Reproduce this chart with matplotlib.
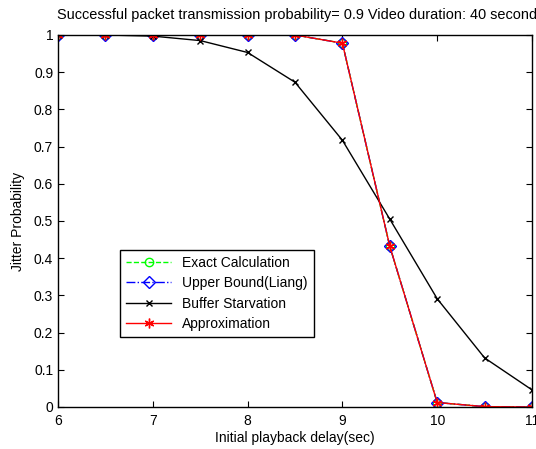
import matplotlib
matplotlib.use('Agg')
import matplotlib.pyplot as plt
from matplotlib.ticker import FuncFormatter

plt.rcParams['font.family'] = ['Liberation Sans', 'DejaVu Sans']

delay = [6, 6.5, 7, 7.5, 8, 8.5, 9, 9.5, 10, 10.5, 11]
exact = [1, 1, 1, 1, 1, 1, 0.978, 0.432, 0.012, 0.001, 0.0]
upper = [1, 1, 1, 1, 1, 1, 0.978, 0.432, 0.012, 0.001, 0.0]
starvation = [1, 1, 0.997, 0.985, 0.953, 0.873, 0.717, 0.505, 0.291, 0.132, 0.046]
approx = [1, 1, 1, 1, 1, 1, 0.978, 0.432, 0.012, 0.001, 0.0]

fig = plt.figure(figsize=(5.36, 4.49), dpi=100)
ax = fig.add_axes([58 / 536, 42 / 449, 474 / 536, 372 / 449])

ax.plot(delay, exact, '--', color='#00ff00', marker='o', mfc='none', ms=6,
        lw=1, label='Exact Calculation')
ax.plot(delay, upper, '-.', color='blue', marker='D', mfc='none', ms=6,
        lw=1, label='Upper Bound(Liang)')
ax.plot(delay, starvation, '-', color='black', marker='x', ms=5,
        lw=1, label='Buffer Starvation')
ax.plot(delay, approx, '-', color='red', marker=(6, 2, 0), ms=7,
        lw=1, label='Approximation')

ax.set_xlim(6, 11)
ax.set_ylim(0, 1)
ax.set_xticks(range(6, 12))
ax.set_yticks([i / 10 for i in range(11)])
ax.yaxis.set_major_formatter(FuncFormatter(lambda v, p: f'{v:g}'))
ax.tick_params(direction='in', top=True, right=True, labelsize=10, length=4)
ax.tick_params(axis='x', pad=5)
for s in ax.spines.values():
    s.set_linewidth(1)

ax.set_xlabel('Initial playback delay(sec)', fontsize=10, labelpad=2)
ax.set_ylabel('Jitter Probability', fontsize=10, labelpad=6)
fig.text(57 / 536, 1 - 15 / 449,
         'Successful packet transmission probability= 0.9 Video duration: 40 seconds',
         fontsize=10.45, ha='left', va='center')

leg = ax.legend(loc='lower left', bbox_to_anchor=(0.131, 0.188), borderaxespad=0,
                fontsize=10, fancybox=False, edgecolor='black', framealpha=1,
                handlelength=3.2, borderpad=0.45, labelspacing=0.45)
leg.get_frame().set_linewidth(1)

fig.savefig('out.png', dpi=100)
